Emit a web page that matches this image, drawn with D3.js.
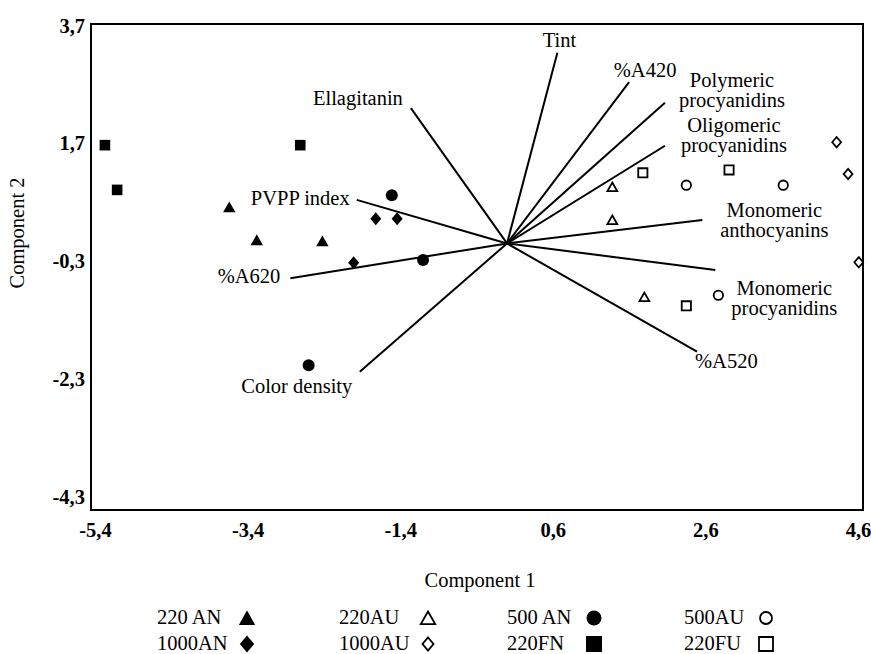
<!DOCTYPE html>
<html>
<head>
<meta charset="utf-8">
<script src="https://cdn.jsdelivr.net/npm/d3@7/dist/d3.min.js"></script>
<style>
  body { margin: 0; background: #fff; }
  svg text { font-family: "Liberation Serif", "Times New Roman", Times, serif; fill: #000; }
</style>
</head>
<body>
<svg id="chart" width="871" height="654"></svg>
<script>
// ---- Data -------------------------------------------------------------
// Axis ticks
const xTicks = [-5.4, -3.4, -1.4, 0.6, 2.6, 4.6];
const yTicks = [3.7, 1.7, -0.3, -2.3, -4.3];

// Treatment groups (legend order)
const groups = ["220 AN", "220AU", "500 AN", "500AU", "1000AN", "1000AU", "220FN", "220FU"];

// Sample scores on the first two components
const sampleGroup = [
  "220 AN", "220 AN", "220 AN",
  "220AU", "220AU", "220AU",
  "500 AN", "500 AN", "500 AN",
  "500AU", "500AU", "500AU",
  "1000AN", "1000AN", "1000AN",
  "1000AU", "1000AU", "1000AU",
  "220FN", "220FN", "220FN",
  "220FU", "220FU", "220FU"
];
const sampleC1 = [
  -3.64, -3.28, -2.42,
   1.38,  1.38,  1.80,
  -1.51, -1.10, -2.60,
   2.35,  3.62,  2.77,
  -1.72, -1.44, -2.01,
   4.32,  4.47,  4.61,
  -5.27, -5.11, -2.71,
   1.78,  2.91,  2.35
];
const sampleC2 = [
   0.62,  0.06,  0.04,
   0.96,  0.40, -0.91,
   0.82, -0.28, -2.07,
   0.99,  0.99, -0.88,
   0.42,  0.42, -0.33,
   1.72,  1.18, -0.32,
   1.67,  0.91,  1.67,
   1.20,  1.25, -1.06
];

// Variable loadings (vectors drawn from the origin)
const variables = [
  "Tint", "Ellagitanin", "%A420", "Polymeric procyanidins", "Oligomeric procyanidins",
  "Monomeric anthocyanins", "Monomeric procyanidins", "%A520", "Color density",
  "%A620", "PVPP index"
];
const loadingC1 = [0.66, -1.26, 1.60, 2.07, 2.07, 2.56, 2.73, 2.49, -1.93, -2.84, -1.97];
const loadingC2 = [3.24, 2.30, 2.74, 2.39, 1.66, 0.40, -0.45, -1.84, -2.18, -0.59, 0.74];

// ---- Styling ----------------------------------------------------------
const fontSize = 20.5;

// Marker shapes: r is the half-size in pixels
const shapes = {
  triangle: { draw(ctx, r) { ctx.moveTo(0, -0.9 * r); ctx.lineTo(r, 0.85 * r); ctx.lineTo(-r, 0.85 * r); ctx.closePath(); } },
  circle:   { draw(ctx, r) { ctx.moveTo(r, 0); ctx.arc(0, 0, r, 0, 2 * Math.PI); } },
  diamond:  { draw(ctx, r) { ctx.moveTo(0, -r); ctx.lineTo(0.85 * r, 0); ctx.lineTo(0, r); ctx.lineTo(-0.85 * r, 0); ctx.closePath(); } },
  square:   { draw(ctx, r) { ctx.rect(-r, -r, 2 * r, 2 * r); } }
};
const groupStyle = {
  "220 AN": { shape: "triangle", filled: true,  r: 6.2, lr: 8.2 },
  "220AU":  { shape: "triangle", filled: false, r: 4.9, lr: 7.2 },
  "500 AN": { shape: "circle",   filled: true,  r: 6.0, lr: 7.5 },
  "500AU":  { shape: "circle",   filled: false, r: 4.7, lr: 6.0 },
  "1000AN": { shape: "diamond",  filled: true,  r: 6.5, lr: 8.5 },
  "1000AU": { shape: "diamond",  filled: false, r: 5.2, lr: 6.5 },
  "220FN":  { shape: "square",   filled: true,  r: 5.3, lr: 8.0 },
  "220FU":  { shape: "square",   filled: false, r: 4.6, lr: 7.0 }
};

// Vector label placement relative to each vector tip
const labelLayout = {
  "Tint":                    { dx: 2,   dy: [-6],      anchor: "middle" },
  "Ellagitanin":             { dx: -8,  dy: [-3],      anchor: "end" },
  "%A420":                   { dx: 16,  dy: [-5],      anchor: "middle" },
  "Polymeric procyanidins":  { dx: 67,  dy: [-16, 4],  anchor: "middle" },
  "Oligomeric procyanidins": { dx: 69,  dy: [-14, 6],  anchor: "middle" },
  "Monomeric anthocyanins":  { dx: 72,  dy: [-3, 17],  anchor: "middle" },
  "Monomeric procyanidins":  { dx: 69,  dy: [25, 45],  anchor: "middle" },
  "%A520":                   { dx: -2,  dy: [16],      anchor: "start" },
  "Color density":           { dx: -63, dy: [21],      anchor: "middle" },
  "%A620":                   { dx: -10, dy: [5],       anchor: "end" },
  "PVPP index":              { dx: -7,  dy: [5],       anchor: "end" }
};

// ---- Layout -----------------------------------------------------------
const svg = d3.select("#chart");
const frame = { left: 91, right: 863, top: 24, bottom: 510 };

const x = d3.scaleLinear().domain([-5.4, 4.6]).range([95, 858]);
const y = d3.scaleLinear().domain([-4.3, 3.7]).range([496.5, 25.7]);
const fmt = v => d3.format(".1f")(v).replace(".", ",").replace("−", "-");

// Plot frame
svg.append("rect")
  .attr("x", frame.left).attr("y", frame.top)
  .attr("width", frame.right - frame.left).attr("height", frame.bottom - frame.top)
  .attr("fill", "none").attr("stroke", "#000").attr("stroke-width", 2);

// Axes: labels only, the frame carries the lines
const xAxis = svg.append("g")
  .attr("transform", `translate(0,${frame.bottom})`)
  .call(d3.axisBottom(x).tickValues(xTicks).tickFormat(fmt).tickSize(0).tickPadding(12.5));
const yAxis = svg.append("g")
  .attr("transform", `translate(${frame.left},0)`)
  .call(d3.axisLeft(y).tickValues(yTicks).tickFormat(fmt).tickSize(0).tickPadding(6));
[xAxis, yAxis].forEach(g => {
  g.select(".domain").remove();
  g.selectAll("text")
    .style("font-family", "'Liberation Serif', 'Times New Roman', serif")
    .style("font-size", fontSize + "px")
    .style("font-weight", "bold")
    .attr("fill", "#000");
});

// Axis titles
svg.append("text")
  .attr("x", 480).attr("y", 587)
  .attr("text-anchor", "middle")
  .style("font-size", fontSize + "px")
  .text("Component 1");
svg.append("text")
  .attr("transform", "translate(24,233) rotate(-90)")
  .attr("text-anchor", "middle")
  .style("font-size", fontSize + "px")
  .text("Component 2");

// Loading vectors
const vectors = variables.map((name, i) => ({ name, c1: loadingC1[i], c2: loadingC2[i] }));
svg.append("g").selectAll("line")
  .data(vectors)
  .join("line")
  .attr("x1", x(0)).attr("y1", y(0))
  .attr("x2", d => x(d.c1)).attr("y2", d => y(d.c2))
  .attr("stroke", "#000").attr("stroke-width", 2);

// Vector labels (multi-word procyanidin / anthocyanin names on two lines)
const labelG = svg.append("g");
vectors.forEach(d => {
  const lay = labelLayout[d.name];
  const lines = lay.dy.length > 1 ? d.name.split(" ") : [d.name];
  lines.forEach((line, k) => {
    labelG.append("text")
      .attr("x", x(d.c1) + lay.dx)
      .attr("y", y(d.c2) + lay.dy[k])
      .attr("text-anchor", lay.anchor)
      .style("font-size", fontSize + "px")
      .text(line);
  });
});

// Sample markers
const samples = sampleGroup.map((g, i) => ({ g, c1: sampleC1[i], c2: sampleC2[i] }));
const sym = d3.symbol();
svg.append("g").selectAll("path")
  .data(samples)
  .join("path")
  .attr("transform", d => `translate(${x(d.c1)},${y(d.c2)})`)
  .attr("d", d => sym.type(shapes[groupStyle[d.g].shape]).size(groupStyle[d.g].r)())
  .attr("fill", d => groupStyle[d.g].filled ? "#000" : "#fff")
  .attr("stroke", "#000")
  .attr("stroke-width", d => groupStyle[d.g].filled ? 0 : 1.8);

// Legend: 2 rows x 4 columns
const legendCols = [157, 339, 507, 684];
const legendSymX = [247, 428, 594, 766];
const legendRows = [624, 650];
const legend = svg.append("g");
groups.forEach((g, i) => {
  const col = i % 4, row = Math.floor(i / 4);
  const st = groupStyle[g];
  legend.append("text")
    .attr("x", legendCols[col]).attr("y", legendRows[row])
    .style("font-size", fontSize + "px")
    .text(g);
  legend.append("path")
    .attr("transform", `translate(${legendSymX[col]},${legendRows[row] - 6})`)
    .attr("d", sym.type(shapes[st.shape]).size(st.lr)())
    .attr("fill", st.filled ? "#000" : "#fff")
    .attr("stroke", "#000")
    .attr("stroke-width", st.filled ? 0 : 1.8);
});
</script>
</body>
</html>
